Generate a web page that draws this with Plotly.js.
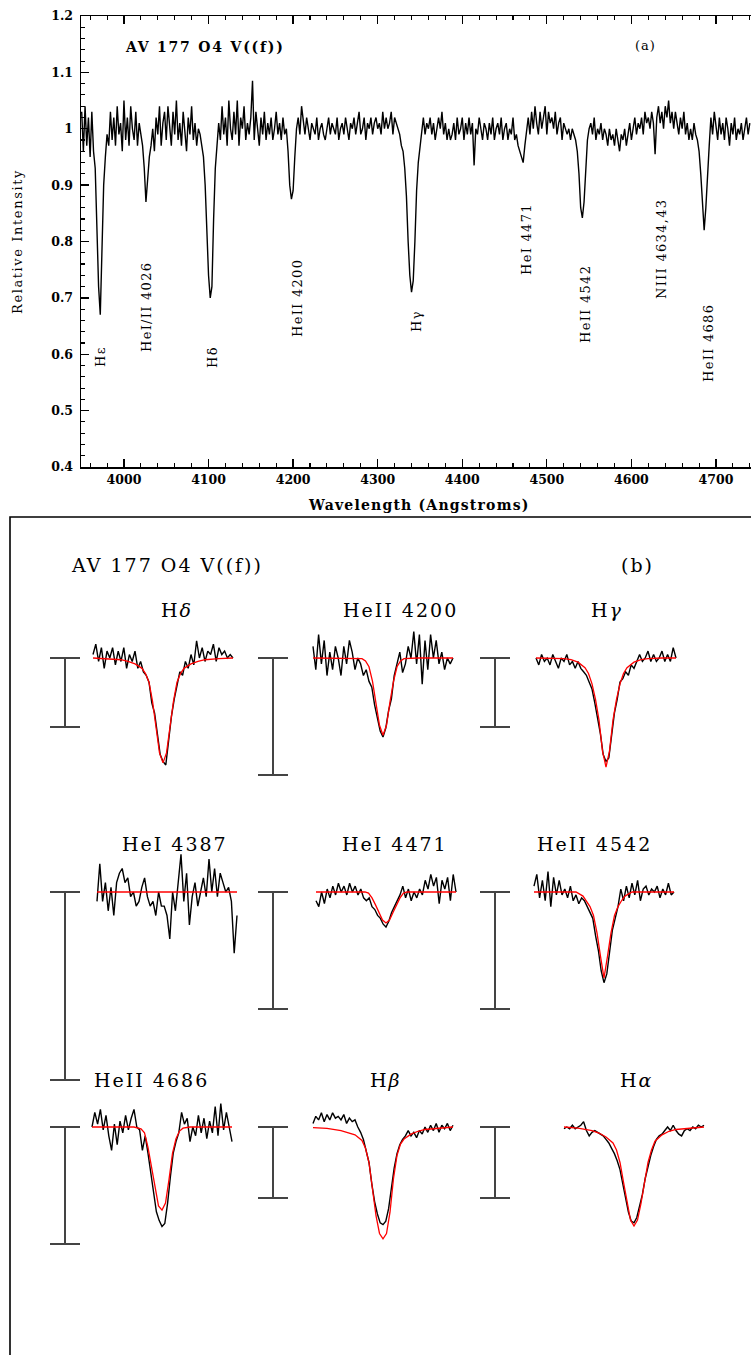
<!DOCTYPE html>
<html><head><meta charset="utf-8">
<script src="https://cdn.plot.ly/plotly-3.0.1.min.js"></script>
<style>html,body{margin:0;padding:0;background:#fff}</style>
</head><body><div id="chart" style="width:751px;height:1355px"></div>
<script>
// ---------- DATA: panel (a) full spectrum ----------
const specStart = 3950;   // Angstrom, first sample
const specStep = 2;       // Angstrom per sample
const specFlux = [
 1.03,0.96,1.04,0.97,1.02,0.95,1.03,0.96,0.93,0.84,
 0.72,0.67,0.78,0.90,0.95,0.99,0.97,1.03,0.98,1.02,
 0.97,1.04,0.99,1.01,0.96,1.05,0.98,1.02,0.97,1.04,
 1.00,0.98,1.03,0.97,1.01,0.99,0.97,0.93,0.87,0.91,
 0.95,0.97,1.00,0.96,1.02,0.99,1.04,0.97,1.01,1.03,
 0.98,1.04,1.00,0.97,1.03,0.99,1.05,0.98,1.01,0.97,
 1.03,1.00,0.96,1.02,0.99,1.04,0.98,1.01,0.97,1.00,
 0.99,0.97,0.95,0.90,0.80,0.74,0.70,0.72,0.84,0.93,
 0.97,1.01,0.98,1.04,0.99,1.02,0.97,1.05,1.00,0.98,
 1.03,0.99,1.05,0.97,1.02,1.00,1.04,0.98,1.01,0.99,
 1.02,1.085,0.98,1.03,1.00,0.97,1.02,0.99,1.03,0.98,
 1.01,0.99,1.02,0.98,1.00,1.03,0.99,1.01,0.98,1.02,
 0.99,1.00,0.96,0.90,0.875,0.89,0.95,1.00,1.02,0.99,
 1.04,1.01,0.99,1.02,1.00,0.98,1.01,1.00,0.99,1.02,
 0.98,1.00,1.01,0.99,0.98,1.00,1.02,0.99,1.01,1.00,
 0.99,1.02,0.98,1.00,1.01,0.99,1.02,1.00,0.98,1.01,
 1.00,1.02,0.99,1.01,1.03,0.99,1.00,1.02,0.98,1.01,
 1.00,1.02,0.99,1.01,1.02,1.00,1.01,0.99,1.03,1.00,
 1.02,1.00,1.01,1.03,0.99,1.02,1.01,1.00,0.99,0.97,
 0.96,0.93,0.88,0.80,0.74,0.71,0.73,0.80,0.89,0.94,
 0.97,0.99,1.02,0.99,1.01,1.00,1.02,0.99,1.01,0.98,
 1.00,1.02,1.00,1.03,0.99,1.01,0.98,1.00,0.98,0.99,
 1.01,0.98,1.02,0.99,1.00,1.02,0.98,1.01,0.99,1.02,
 0.99,1.01,0.935,1.00,0.99,1.02,1.00,0.98,1.01,1.00,
 0.98,1.01,0.99,1.02,0.98,1.00,1.01,0.99,1.02,0.98,
 1.00,1.01,0.98,1.00,0.99,1.02,0.98,0.99,0.97,0.96,
 0.95,0.94,0.97,1.00,1.02,0.99,1.03,1.00,1.04,1.01,
 0.99,1.03,1.00,1.02,1.04,0.99,1.03,1.01,1.02,1.00,
 1.03,0.99,1.01,1.02,0.98,1.01,1.00,0.99,1.00,0.98,
 1.00,0.99,0.98,0.96,0.92,0.86,0.842,0.87,0.93,0.98,
 1.00,1.01,0.99,1.02,0.98,1.00,0.99,1.01,0.98,1.00,
 0.99,0.97,1.00,0.98,0.99,0.97,1.00,0.98,0.96,0.99,
 0.98,1.00,0.97,0.99,1.01,0.98,1.00,1.02,0.99,1.01,
 1.00,1.02,0.99,1.03,1.01,1.02,1.00,1.03,1.01,0.955,
 1.02,1.04,1.01,1.03,1.00,1.04,1.02,1.05,1.01,1.03,
 1.00,1.03,1.01,0.99,1.02,1.00,1.03,0.99,1.01,0.98,
 1.00,0.98,1.01,0.99,0.98,0.96,0.92,0.86,0.82,0.86,
 0.93,0.97,1.02,0.99,1.03,1.00,0.98,1.02,0.99,1.01,
 0.98,1.02,1.00,0.97,1.01,0.99,1.02,0.98,1.00,0.99,
 1.01,0.98,1.00,1.02,0.99,1.01
];
const lineLabelsTop = ["Hε","HeI/II 4026","Hδ","HeII 4200","Hγ","HeI 4471","HeII 4542","NIII 4634,43","HeII 4686"];

// ---------- DATA: panel (b) line profiles ----------
const profileNames = ["H<i>δ</i>","HeII 4200","H<i>γ</i>","HeI 4387","HeI 4471","HeII 4542","HeII 4686","H<i>β</i>","H<i>α</i>"];
const obsStart = -20, obsStep = 0.8;   // offset from line centre (arbitrary Å units)
const fitOffset = [-20,-16,-12,-10,-8,-6,-5,-4,-3,-2,-1,0,1,2,3,4,5,6,8,10,12,16,20];
const scaleBar = 0.2;   // relative-intensity length of each I-bar

const obsHdelta = [1.01,1.04,0.99,1.03,0.97,1.02,1.00,1.03,0.98,1.02, 0.99,1.03,0.97,1.01,0.99,1.02,0.97,0.99,0.96,0.95, 0.93,0.87,0.84,0.78,0.72,0.70,0.69,0.76,0.83,0.88, 0.92,0.96,0.95,0.99,0.97,1.01,0.98,1.05,1.00,1.03, 0.99,1.02,1.01,1.04,0.99,1.03,1.01,1.02,1.00,1.01,1.00];
const obsHeII4200 = [1.02,0.98,1.04,0.99,1.03,0.97,1.01,0.98,1.02,1.00, 0.97,1.02,0.99,1.03,1.01,0.98,1.00,0.99,0.97,0.98, 0.96,0.95,0.92,0.90,0.875,0.865,0.88,0.91,0.93,0.97, 0.99,1.01,0.975,0.99,1.02,1.00,1.045,0.99,1.04,0.955, 1.03,0.98,1.04,1.00,1.03,0.99,1.01,0.98,1.00,0.99,1.00];
const obsHgamma = [1.00,0.98,1.01,0.99,1.00,0.98,1.01,0.99,0.97,1.00, 0.99,1.01,0.98,0.99,0.97,0.99,0.97,0.96,0.95,0.93, 0.91,0.87,0.83,0.78,0.72,0.70,0.71,0.77,0.84,0.88, 0.93,0.94,0.96,0.95,0.98,0.97,0.99,1.01,0.99,1.00, 1.02,0.99,1.01,0.99,1.00,1.02,0.99,1.01,0.99,1.03,1.00];
const obsHeI4387 = [0.99,1.03,0.99,1.01,0.98,1.005,0.975,1.01,1.02,1.025, 1.01,1.015,0.995,1.00,0.985,0.99,1.005,1.015,0.995,0.985, 0.99,0.975,1.00,0.985,0.985,0.975,0.95,1.00,0.98,1.01, 1.04,0.99,1.02,0.965,0.995,1.01,0.985,1.00,1.015,0.995, 1.035,1.00,1.025,0.995,1.02,1.01,1.00,1.005,0.99,0.935,0.975];
const obsHeI4471 = [0.985,0.975,1.00,0.98,1.005,0.99,1.01,0.995,1.015,1.00, 1.01,0.995,1.015,1.00,1.01,0.995,1.005,0.99,0.985,0.99, 0.975,0.97,0.96,0.955,0.945,0.94,0.95,0.965,0.975,0.985, 0.995,1.01,0.99,1.005,0.985,1.00,0.99,1.005,0.995,1.02, 1.005,1.03,1.01,1.025,0.98,1.02,1.005,1.025,0.985,1.03,1.00];
const obsHeII4542 = [1.01,1.03,0.99,1.02,0.985,1.035,0.975,1.025,0.995,1.02, 0.995,1.005,0.99,1.01,0.985,0.995,0.98,0.99,0.985,0.975, 0.965,0.955,0.925,0.90,0.865,0.845,0.86,0.90,0.935,0.955, 0.975,1.005,0.985,1.01,0.99,1.015,0.995,1.02,0.985,1.005, 1.01,0.995,1.005,1.00,1.01,0.99,1.005,0.995,1.015,0.995,1.00];
const obsHeII4686 = [1.00,1.025,1.005,1.03,0.995,1.02,0.985,0.96,1.005,0.97, 1.01,0.99,1.02,0.995,1.015,1.03,1.00,0.995,0.96,0.985, 0.955,0.92,0.885,0.855,0.84,0.83,0.835,0.87,0.915,0.955, 0.975,0.99,1.025,1.005,1.015,0.975,1.00,0.985,1.02,0.99, 1.015,0.98,1.01,0.99,1.035,0.985,1.04,0.995,1.025,1.00,0.975];
const obsHbeta = [1.01,1.03,1.02,1.04,1.015,1.035,1.02,1.04,1.025,1.03, 1.02,1.035,1.01,1.025,1.015,1.02,1.00,0.985,0.965,0.935, 0.90,0.84,0.79,0.755,0.73,0.725,0.735,0.77,0.83,0.885, 0.925,0.95,0.965,0.975,0.99,0.975,0.985,0.97,0.99,0.98, 1.00,0.985,1.005,0.99,1.01,0.985,1.005,0.995,1.01,0.99,1.005];
const obsHalpha = [0.995,1.00,0.995,1.005,0.995,1.00,1.005,1.015,0.99,0.975, 0.985,0.99,0.985,0.98,0.975,0.965,0.955,0.94,0.925,0.905, 0.88,0.84,0.80,0.76,0.735,0.73,0.745,0.775,0.81,0.855, 0.89,0.92,0.945,0.965,0.975,0.98,0.99,1.00,0.99,1.005, 0.99,0.98,0.975,0.99,0.995,0.99,1.00,0.995,1.005,1.00,1.005];

const fitHdelta = [1.0,0.998,0.995,0.99,0.983,0.97,0.955,0.93,0.875,0.80,0.725,0.696,0.725,0.80,0.875,0.93,0.955,0.97,0.983,0.99,0.995,0.998,1.0];
const fitHeII4200 = [1,1,1,1,1,0.999,0.995,0.985,0.96,0.925,0.885,0.868,0.885,0.925,0.96,0.985,0.995,0.999,1,1,1,1,1];
const fitHgamma = [1.0,1.0,0.998,0.995,0.988,0.972,0.955,0.925,0.88,0.82,0.73,0.684,0.73,0.82,0.88,0.925,0.955,0.972,0.988,0.995,0.998,1.0,1.0];
const fitHeI4387 = [1,1,1,1,1,1,1,1,1,1,1,1,1,1,1,1,1,1,1,1,1,1,1];
const fitHeI4471 = [1,1,1,1,1,1,0.998,0.99,0.978,0.965,0.952,0.947,0.952,0.965,0.978,0.99,0.998,1,1,1,1,1,1];
const fitHeII4542 = [1,1,1,1,1,0.993,0.985,0.975,0.96,0.93,0.89,0.853,0.89,0.93,0.96,0.975,0.985,0.993,1,1,1,1,1];
const fitHeII4686 = [1,1,1,1,1,0.997,0.99,0.965,0.93,0.895,0.865,0.858,0.87,0.91,0.955,0.98,0.993,0.998,1,1,1,1,1];
const fitHbeta = [0.998,0.996,0.99,0.985,0.978,0.962,0.94,0.9,0.83,0.75,0.70,0.685,0.70,0.76,0.855,0.92,0.952,0.966,0.98,0.988,0.993,0.997,1.0];
const fitHalpha = [1.0,0.997,0.99,0.983,0.972,0.955,0.935,0.9,0.845,0.785,0.738,0.721,0.738,0.785,0.845,0.9,0.935,0.96,0.978,0.988,0.993,0.997,1.0];

const obsSets = [obsHdelta,obsHeII4200,obsHgamma,obsHeI4387,obsHeI4471,obsHeII4542,obsHeII4686,obsHbeta,obsHalpha];
const fitSets = [fitHdelta,fitHeII4200,fitHgamma,fitHeI4387,fitHeI4471,fitHeII4542,fitHeII4686,fitHbeta,fitHalpha];

// ---------- LAYOUT (positions in page pixels) ----------
const W = 751, H = 1355;
const PX = v => v / W, PY = v => 1 - v / H;
const serif = "DejaVu Serif";
const sp = (t, ls) => `<span style="letter-spacing:${ls}px">${t}</span>`;

// panel geometry: centre x, continuum y, px per unit intensity, I-bar x, label x, label y
const panelGeom = [
  {c:163,yc:658,s:345,xb:65, lx:177,ly:610},
  {c:383,yc:658,s:585,xb:273,lx:400,ly:610},
  {c:606,yc:658,s:345,xb:495,lx:607,ly:610},
  {c:167,yc:892,s:940,xb:65, lx:175,ly:844},
  {c:386,yc:892,s:585,xb:273,lx:395,ly:844},
  {c:604,yc:892,s:585,xb:495,lx:594,ly:844},
  {c:162,yc:1127,s:585,xb:65, lx:151,ly:1080},
  {c:383,yc:1127,s:355,xb:273,lx:386,ly:1080},
  {c:634,yc:1127,s:355,xb:495,lx:636,ly:1080}
];
const kx = 3.5; // px per offset unit

const traces = [];
traces.push({
  x: specFlux.map((_, i) => specStart + i * specStep), y: specFlux,
  type:'scatter', mode:'lines', line:{color:'#000', width:1.4},
  xaxis:'x', yaxis:'y', hoverinfo:'skip'
});

const layout = {
  width: W, height: H, margin:{l:0,r:0,t:0,b:0},
  paper_bgcolor:'#fff', plot_bgcolor:'rgba(0,0,0,0)', showlegend:false,
  font:{family:serif, color:'#000'},
  xaxis:{domain:[PX(81),1], range:[3949.2, 4741.4], anchor:'y',
    showline:true, linewidth:1.5, linecolor:'#000', mirror:'ticks',
    ticks:'inside', ticklen:8, tickwidth:1.3, tickcolor:'#000',
    dtick:100, tick0:0, showgrid:false, zeroline:false,
    minor:{dtick:20, ticks:'inside', ticklen:4, tickwidth:1.1, tickcolor:'#000', showgrid:false},
    tickfont:{family:serif, size:12.5, weight:'bold', color:'#000'}},
  yaxis:{domain:[PY(467), PY(16)], range:[0.4,1.2], anchor:'x',
    showline:true, linewidth:1.5, linecolor:'#000', mirror:false,
    ticks:'inside', ticklen:8, tickwidth:1.3, tickcolor:'#000',
    dtick:0.1, tick0:0, showgrid:false, zeroline:false,
    minor:{dtick:0.02, ticks:'inside', ticklen:4, tickwidth:1.1, tickcolor:'#000', showgrid:false},
    tickfont:{family:serif, size:12.5, weight:'bold', color:'#000'}, ticklabelstandoff:4},
  yaxis2:{overlaying:'y', side:'right', anchor:'x', range:[0.4,1.2], dtick:0.1, tick0:0,
    ticks:'inside', ticklen:4, tickwidth:1.3, tickcolor:'#000', showticklabels:false,
    showline:false, showgrid:false, zeroline:false},
  annotations:[], shapes:[]
};

// annotation helper: always centred on the given page-pixel point
const A = layout.annotations;
const note = (x, y, text, font, angle) => A.push({xref:'paper', yref:'paper', x:PX(x), y:PY(y),
  xanchor:'center', yanchor:'middle', showarrow:false, text, font, textangle: angle || 0});

// top panel texts
note(17, 242, sp("Relative Intensity",1.6), {family:serif,size:13}, -90);
note(419, 505, sp("Wavelength (Angstroms)",1.2), {family:serif,size:14,weight:'bold'});
note(205, 47, sp("AV 177 O4 V((f))",1.8), {family:serif,size:14,weight:'bold'});
note(645, 46, sp("(a)",1), {family:serif,size:13});
const topLabelPos = [[100,357],[146,307],[212,357],[297,298],[416,321],[526,239],[586,304],[662,249],[708,343]];
lineLabelsTop.forEach((t, i) => note(topLabelPos[i][0], topLabelPos[i][1], sp(t,1.3), {family:serif,size:13}, -90));

// bottom panel frame and texts
layout.shapes.push({type:'rect', xref:'paper', yref:'paper', x0:PX(10), x1:1.05, y0:-0.05, y1:PY(517),
  line:{color:'#000', width:1.6}});
note(167, 565, sp("AV 177 O4 V((f))",2), {family:serif,size:19});
note(637, 565, sp("(b)",2), {family:serif,size:19});

panelGeom.forEach((g, i) => {
  const n = i + 3;
  const xa = 'xaxis' + n, ya = 'yaxis' + n;
  const left = g.xb - 22, right = g.c + 78;
  layout[xa] = {domain:[PX(left), PX(right)], range:[(left - g.c)/kx, (right - g.c)/kx],
    visible:false, anchor:'y'+n, fixedrange:true};
  const top = g.yc - 45, bot = g.yc + 205;
  layout[ya] = {domain:[PY(bot), PY(top)], range:[1 - 205/g.s, 1 + 45/g.s],
    visible:false, anchor:'x'+n, fixedrange:true};
  const obs = obsSets[i], fit = fitSets[i];
  traces.push({x: obs.map((_, j) => obsStart + j*obsStep), y: obs, type:'scatter', mode:'lines',
    line:{color:'#000', width:1.4}, xaxis:'x'+n, yaxis:'y'+n, hoverinfo:'skip'});
  traces.push({x: fitOffset, y: fit, type:'scatter', mode:'lines',
    line:{color:'#ff0000', width:1.3}, xaxis:'x'+n, yaxis:'y'+n, hoverinfo:'skip'});
  traces.push({x:[(g.xb - g.c)/kx], y:[1 - scaleBar/2], type:'scatter', mode:'markers',
    marker:{size:1, color:'rgba(0,0,0,0)'},
    error_y:{type:'data', array:[scaleBar/2], symmetric:true, width:15, thickness:2, color:'#444'},
    xaxis:'x'+n, yaxis:'y'+n, hoverinfo:'skip'});
  note(g.lx, g.ly, sp(profileNames[i],2), {family:serif,size:19});
});

Plotly.newPlot('chart', traces, layout, {staticPlot:true, displayModeBar:false});
</script></body></html>
